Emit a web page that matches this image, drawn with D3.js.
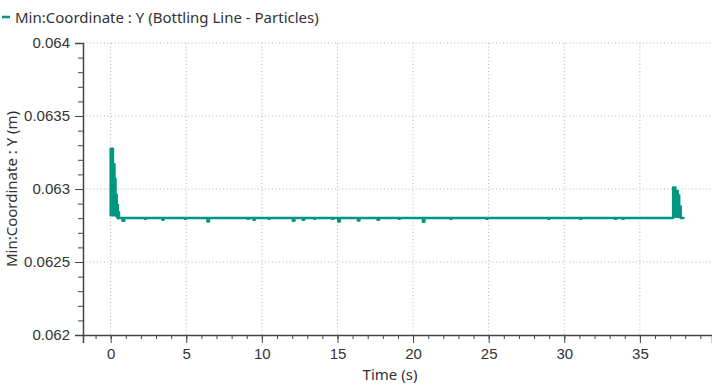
<!DOCTYPE html>
<html>
<head>
<meta charset="utf-8">
<script src="https://cdn.jsdelivr.net/npm/d3@7"></script>
<style>
  body { margin: 0; background: #fff; }
  svg { display: block; font-family: "Noto Sans", sans-serif; }
  .tick text { fill: #333; font-size: 15px; }
  .domain, .tick line { stroke: #444; }
</style>
</head>
<body>
<div id="chart"></div>
<script>
// Series: time samples with the min / max envelope drawn at each
const time = [0.00, 0.15, 0.25, 0.32, 0.40, 0.47, 0.55, 0.78, 0.90, 2.25, 2.33, 3.42, 3.50, 4.90, 4.98,
  6.40, 6.50, 9.05, 9.13, 9.45, 9.53, 10.45, 10.53, 12.05, 12.15, 12.70, 12.80, 13.45, 13.53, 14.65, 14.73,
  15.05, 15.15, 16.35, 16.45, 17.65, 17.75, 19.05, 19.13, 20.65, 20.75, 22.45, 22.55, 24.85, 24.93,
  28.95, 29.03, 31.05, 31.13, 33.35, 33.43, 33.85, 33.93, 37.20, 37.35, 37.50, 37.60, 37.70, 37.88];
const yMax = [0.063275, 0.06317, 0.06307, 0.06296, 0.06289, 0.06284, 0.062802, 0.062802, 0.062802, 0.062802, 0.062802, 0.062802, 0.062802, 0.062802, 0.062802,
  0.062802, 0.062802, 0.062802, 0.062802, 0.062802, 0.062802, 0.062802, 0.062802, 0.062802, 0.062802, 0.062802, 0.062802, 0.062802, 0.062802, 0.062802, 0.062802,
  0.062802, 0.062802, 0.062802, 0.062802, 0.062802, 0.062802, 0.062802, 0.062802, 0.062802, 0.062802, 0.062802, 0.062802, 0.062802, 0.062802,
  0.062802, 0.062802, 0.062802, 0.062802, 0.062802, 0.062802, 0.062802, 0.062802, 0.06301, 0.062987, 0.062955, 0.06288, 0.062802, 0.062802];
const yMin = [0.06282, 0.06282, 0.06282, 0.06282, 0.06281, 0.06280, 0.062802, 0.062783, 0.062802, 0.062797, 0.062802, 0.06279, 0.062802, 0.062797, 0.062802,
  0.062777, 0.062802, 0.062797, 0.062802, 0.06279, 0.062802, 0.062797, 0.062802, 0.062783, 0.062802, 0.06279, 0.062802, 0.062797, 0.062802, 0.062797, 0.062802,
  0.062777, 0.062802, 0.062785, 0.062802, 0.06279, 0.062802, 0.062797, 0.062802, 0.062775, 0.062802, 0.062797, 0.062802, 0.062797, 0.062802,
  0.062797, 0.062802, 0.062797, 0.062802, 0.062797, 0.062802, 0.062797, 0.062802, 0.06281, 0.06281, 0.06281, 0.06281, 0.062802, 0.062802];

const xTicks = [0, 5, 10, 15, 20, 25, 30, 35];
const yTicks = [0.062, 0.0625, 0.063, 0.0635, 0.064];
const seriesName = "Min:Coordinate : Y (Bottling Line - Particles)";
const xTitle = "Time (s)";
const yTitle = "Min:Coordinate : Y (m)";

const W = 712, H = 387;
const margin = { top: 43, right: 0, bottom: 52, left: 83 };
const width = W - margin.left - margin.right;
const height = H - margin.top - margin.bottom;
const teal = "#009682";

const svg = d3.select("#chart").append("svg")
    .attr("width", W)
    .attr("height", H);

const x = d3.scaleLinear().domain([-1.83, 39.77]).range([0, width]);
const y = d3.scaleLinear().domain([0.062, 0.064]).range([height, 0]);

const g = svg.append("g").attr("transform", `translate(${margin.left},${margin.top})`);

// dotted grid at the major ticks
g.selectAll(".gx").data(xTicks).join("line")
    .attr("x1", d => x(d)).attr("x2", d => x(d))
    .attr("y1", 0).attr("y2", height)
    .attr("stroke", "#b5b5b5").attr("stroke-dasharray", "1,2.5");
g.selectAll(".gy").data(yTicks.filter(d => d > 0.062)).join("line")
    .attr("x1", 0).attr("x2", width)
    .attr("y1", d => y(d)).attr("y2", d => y(d))
    .attr("stroke", "#b5b5b5").attr("stroke-dasharray", "1,2.5");

// minor ticks first, then the major axes on top
g.append("g")
    .attr("transform", `translate(0,${height})`)
    .call(d3.axisBottom(x).tickValues(d3.range(-1, 40)).tickSize(4).tickFormat(""))
    .call(a => a.select(".domain").remove());
g.append("g")
    .call(d3.axisLeft(y).tickValues(d3.range(0.0621, 0.064, 0.0001)).tickSize(5).tickFormat(""))
    .call(a => a.select(".domain").remove());

g.append("g")
    .attr("transform", `translate(0,${height})`)
    .call(d3.axisBottom(x).tickValues(xTicks).tickSizeOuter(0).tickSize(8).tickPadding(5))
    .call(a => a.select(".domain").attr("stroke-width", 1.5));
g.append("g")
    .call(d3.axisLeft(y).tickValues(yTicks).tickSizeOuter(0).tickSize(8).tickPadding(5)
        .tickFormat(d => String(+d.toFixed(4))))
    .call(a => a.select(".domain").attr("stroke-width", 1.5));

// series as a min/max envelope
const pts = time.map((t, i) => ({ t: t, lo: yMin[i], hi: yMax[i] }));
const area = d3.area()
    .curve(d3.curveStepAfter)
    .x(d => x(d.t))
    .y0(d => y(d.lo))
    .y1(d => y(d.hi));
g.append("path")
    .datum(pts)
    .attr("d", area)
    .attr("fill", teal)
    .attr("stroke", teal)
    .attr("stroke-width", 2.5)
    .attr("stroke-linejoin", "round");

// legend
svg.append("line")
    .attr("x1", 2).attr("x2", 10).attr("y1", 17).attr("y2", 17)
    .attr("stroke", teal).attr("stroke-width", 2.5);
svg.append("text")
    .attr("x", 15).attr("y", 23)
    .attr("fill", "#333").style("font-size", "15px")
    .text(seriesName);

// axis titles
svg.append("text")
    .attr("x", 390).attr("y", 380)
    .attr("text-anchor", "middle")
    .attr("fill", "#333").style("font-size", "15px")
    .text(xTitle);
svg.append("text")
    .attr("transform", `translate(17,${margin.top + height / 2}) rotate(-90)`)
    .attr("text-anchor", "middle")
    .attr("fill", "#333").style("font-size", "15px")
    .text(yTitle);
</script>
</body>
</html>
